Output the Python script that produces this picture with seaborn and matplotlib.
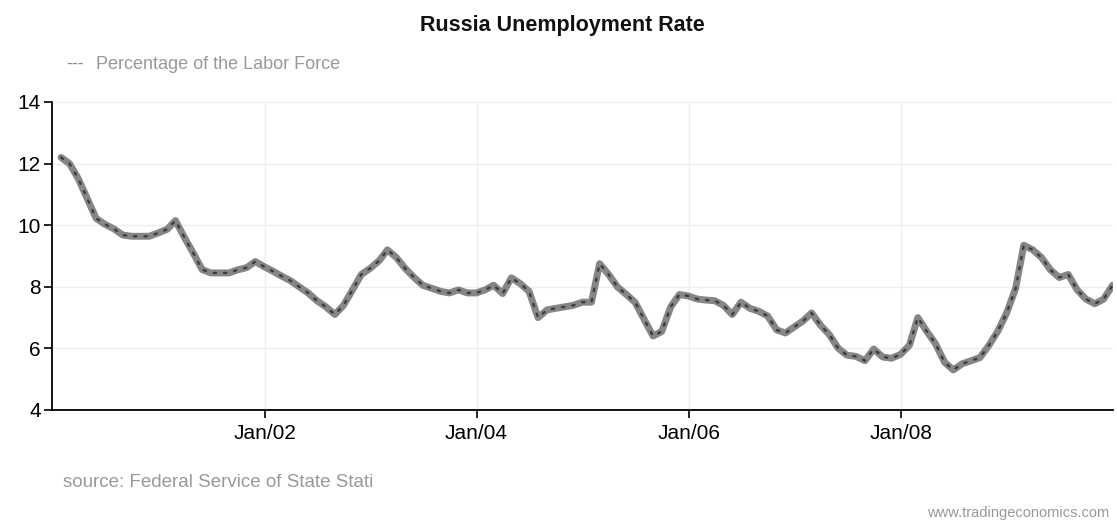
import matplotlib
matplotlib.use("Agg")
import matplotlib.pyplot as plt
import seaborn as sns
import pandas as pd

# Monthly values Jan 2000 .. Dec 2009
values_2000 = [12.2, 12.0, 11.5, 10.87, 10.22, 10.03, 9.88, 9.68, 9.64, 9.64, 9.64, 9.75]
values_2001 = [9.87, 10.15, 9.6, 9.1, 8.56, 8.45, 8.45, 8.45, 8.55, 8.62, 8.82, 8.65]
values_2002 = [8.5, 8.35, 8.2, 8.0, 7.8, 7.55, 7.35, 7.1, 7.4, 7.9, 8.4, 8.6]
values_2003 = [8.85, 9.2, 8.95, 8.6, 8.3, 8.05, 7.95, 7.85, 7.8, 7.9, 7.8, 7.8]
values_2004 = [7.9, 8.05, 7.78, 8.29, 8.1, 7.85, 7.0, 7.25, 7.3, 7.35, 7.4, 7.5]
values_2005 = [7.5, 8.75, 8.4, 8.0, 7.75, 7.5, 6.95, 6.4, 6.55, 7.35, 7.75, 7.7]
values_2006 = [7.6, 7.57, 7.55, 7.4, 7.1, 7.5, 7.3, 7.2, 7.05, 6.6, 6.5, 6.7]
values_2007 = [6.9, 7.15, 6.75, 6.45, 6.0, 5.78, 5.74, 5.6, 5.98, 5.72, 5.68, 5.8]
values_2008 = [6.1, 7.0, 6.55, 6.15, 5.55, 5.3, 5.5, 5.6, 5.7, 6.1, 6.55, 7.15]
values_2009 = [7.95, 9.35, 9.2, 8.95, 8.55, 8.3, 8.4, 7.9, 7.6, 7.45, 7.6, 8.05]

series_values = (values_2000 + values_2001 + values_2002 + values_2003 + values_2004 +
                 values_2005 + values_2006 + values_2007 + values_2008 + values_2009)
dates = pd.date_range("2000-01-01", periods=len(series_values), freq="ME")

yticks = [4, 6, 8, 10, 12, 14]
xtick_dates = ["2002-01-01", "2004-01-01", "2006-01-01", "2008-01-01"]
xtick_labels = ["Jan/02", "Jan/04", "Jan/06", "Jan/08"]

title = "Russia Unemployment Rate"
legend_label = "Percentage of the Labor Force"
source_text = "source: Federal Service of State Stati"
site_text = "www.tradingeconomics.com"

df = pd.DataFrame({"date": dates, "value": series_values})

sns.set_theme(style="white")
plt.rcParams["font.family"] = ["Liberation Sans", "DejaVu Sans"]

fig = plt.figure(figsize=(11.17, 5.22), dpi=100)
ax = fig.add_axes([0.0466, 0.2146, 0.9500, 0.5900])

sns.lineplot(data=df, x="date", y="value", ax=ax, color="#868686", linewidth=5.0,
             solid_capstyle="round", solid_joinstyle="round")
sns.lineplot(data=df, x="date", y="value", ax=ax, color="#3c3c3c", linewidth=1.7,
             linestyle=(0, (1, 3.4)), dash_capstyle="round")

ax.set_xlim(pd.Timestamp("1999-12-31"), pd.Timestamp("2010-01-02"))
ax.set_ylim(4, 14)
ax.set_yticks(yticks)
ax.set_yticklabels([str(v) for v in yticks])
ax.set_xticks(pd.to_datetime(xtick_dates))
ax.set_xticklabels(xtick_labels)
ax.set_xlabel("")
ax.set_ylabel("")

ax.grid(True, color="#eeeeee", linewidth=1.0)
ax.set_axisbelow(True)
for s in ["top", "right"]:
    ax.spines[s].set_visible(False)
for s in ["left", "bottom"]:
    ax.spines[s].set_color("#000000")
    ax.spines[s].set_linewidth(1.3)

ax.tick_params(axis="both", which="major", direction="out", length=6, width=1.2,
               color="#000000", labelcolor="#000000", labelsize=15, pad=4,
               left=True, bottom=True)
ax.tick_params(axis="y", pad=2)

fig.text(0.5037, 0.951, title, ha="center", va="center", fontsize=15.5,
         fontweight="bold", color="#111111")
fig.text(0.059, 0.876, "---", ha="left", va="center", fontsize=13, color="#888888")
fig.text(0.086, 0.876, legend_label, ha="left", va="center", fontsize=13,
         color="#999999")
fig.text(0.056, 0.076, source_text, ha="left", va="center", fontsize=13.5,
         color="#999999")
fig.text(0.993, 0.017, site_text, ha="right", va="center", fontsize=10.5,
         color="#999999")

fig.savefig("out.png", dpi=100)
